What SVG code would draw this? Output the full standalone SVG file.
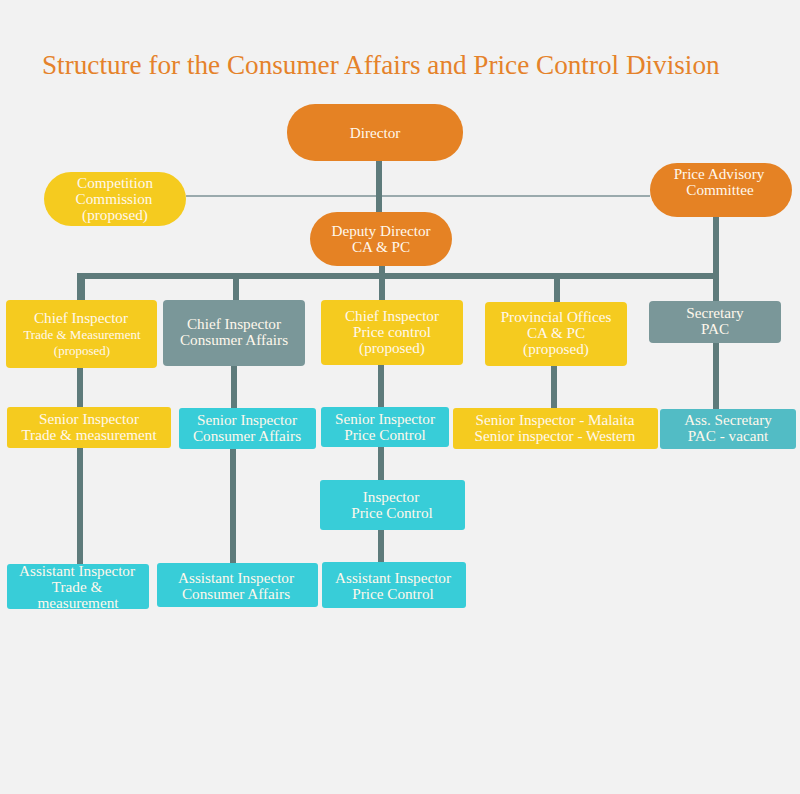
<svg xmlns="http://www.w3.org/2000/svg" width="800" height="794" viewBox="0 0 800 794">
<style>
.t{font-family:"Liberation Serif","Times New Roman",serif;font-size:15.2px;fill:#FFF8EC;text-anchor:middle}
.s{font-size:13px}
.org{fill:#E58224}
.yel{fill:#F5CB1F}
.gry{fill:#7A9799}
.cyn{fill:#38CDD8}
.cyn2{fill:#52BCC5}
.ln{stroke:#5E7B7B;stroke-width:6;fill:none}
</style>
<rect width="800" height="794" fill="#F2F2F2"/>
<text x="42" y="74" font-family="Liberation Serif,'Times New Roman',serif" font-size="27.2" fill="#E5822A">Structure for the Consumer Affairs and Price Control Division</text>
<g id="connectors">
<line x1="186" y1="196" x2="650" y2="196" stroke="#9AAAAD" stroke-width="2"/>
<path class="ln" d="M379 158V214M382 264V276M80 302V276H716M716 214V411M82 276V302M236 276V302M382 276V302M557 276V304"/>
<path class="ln" d="M80 366V409M234 364V410M381 363V409M554 366V410M80 446V566M233 447V567M381 445V482M381 528V564"/>
</g>
<g id="director"><rect class="org" x="287" y="104" width="176" height="57" rx="28"/><text class="t" x="375" y="138">Director</text></g>
<g id="competition"><rect class="yel" x="44" y="172" width="142" height="54" rx="27"/><text class="t" x="115" y="188">Competition</text><text class="t" x="114" y="204">Commission</text><text class="t" x="115" y="220">(proposed)</text></g>
<g id="pac"><rect class="org" x="650" y="163" width="142" height="54" rx="27"/><text class="t" x="719" y="179">Price Advisory</text><text class="t" x="720" y="195">Committee</text></g>
<g id="deputy"><rect class="org" x="310" y="212" width="142" height="54" rx="27"/><text class="t" x="381" y="236">Deputy Director</text><text class="t" x="381" y="252">CA &amp; PC</text></g>
<g id="ci-tm"><rect class="yel" x="6" y="300" width="151" height="68" rx="4"/><text class="t" x="81" y="323">Chief Inspector</text><text class="t s" x="82" y="339">Trade &amp; Measurement</text><text class="t s" x="82" y="355">(proposed)</text></g>
<g id="ci-ca"><rect class="gry" x="163" y="300" width="142" height="66" rx="4"/><text class="t" x="234" y="329">Chief Inspector</text><text class="t" x="234" y="345">Consumer Affairs</text></g>
<g id="ci-pc"><rect class="yel" x="321" y="300" width="142" height="65" rx="4"/><text class="t" x="392" y="321">Chief Inspector</text><text class="t" x="392" y="337">Price control</text><text class="t" x="392" y="353">(proposed)</text></g>
<g id="prov"><rect class="yel" x="485" y="302" width="142" height="64" rx="4"/><text class="t" x="556" y="322">Provincial Offices</text><text class="t" x="556" y="338">CA &amp; PC</text><text class="t" x="556" y="354">(proposed)</text></g>
<g id="sec"><rect class="gry" x="649" y="301" width="132" height="42" rx="4"/><text class="t" x="715" y="318">Secretary</text><text class="t" x="715" y="334">PAC</text></g>
<g id="si-tm"><rect class="yel" x="7" y="407" width="164" height="41" rx="3"/><text class="t" x="89" y="424">Senior Inspector</text><text class="t" x="89" y="440">Trade &amp; measurement</text></g>
<g id="si-ca"><rect class="cyn" x="179" y="408" width="137" height="41" rx="3"/><text class="t" x="247" y="425">Senior Inspector</text><text class="t" x="247" y="441">Consumer Affairs</text></g>
<g id="si-pc"><rect class="cyn" x="321" y="407" width="128" height="40" rx="3"/><text class="t" x="385" y="424">Senior Inspector</text><text class="t" x="385" y="440">Price Control</text></g>
<g id="si-prov"><rect class="yel" x="453" y="408" width="205" height="41" rx="3"/><text class="t" x="555" y="425">Senior Inspector - Malaita</text><text class="t" x="555" y="441">Senior inspector - Western</text></g>
<g id="ass-sec"><rect class="cyn2" x="660" y="409" width="136" height="40" rx="3"/><text class="t" x="728" y="425">Ass. Secretary</text><text class="t" x="728" y="441">PAC - vacant</text></g>
<g id="insp-pc"><rect class="cyn" x="320" y="480" width="145" height="50" rx="3"/><text class="t" x="391" y="502">Inspector</text><text class="t" x="392" y="518">Price Control</text></g>
<g id="ai-tm"><rect class="cyn" x="7" y="564" width="142" height="45" rx="3"/><text class="t" x="77" y="576">Assistant Inspector</text><text class="t" x="77" y="592">Trade &amp;</text><text class="t" x="78" y="608">measurement</text></g>
<g id="ai-ca"><rect class="cyn" x="157" y="563" width="161" height="44" rx="3"/><text class="t" x="236" y="583">Assistant Inspector</text><text class="t" x="236" y="599">Consumer Affairs</text></g>
<g id="ai-pc"><rect class="cyn" x="322" y="562" width="144" height="46" rx="3"/><text class="t" x="393" y="583">Assistant Inspector</text><text class="t" x="393" y="599">Price Control</text></g>
</svg>
